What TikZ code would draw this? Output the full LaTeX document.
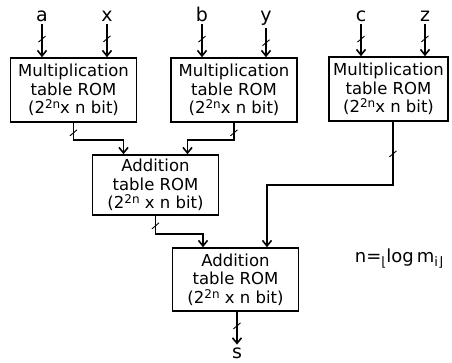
\documentclass[tikz,border=0pt]{standalone}
\usepackage{fontspec}
\setmainfont{DejaVu Sans}
\usetikzlibrary{arrows.meta}
\usetikzlibrary{decorations.markings}
\newcommand{\romsup}[1]{\raisebox{5pt}{\fontsize{12}{12}\selectfont #1}}
\tikzset{rom/.style = {draw, rectangle, inner sep=0, align=center,
                       minimum width=126, minimum height=64,
                       font=\fontsize{16.5}{18.5}\selectfont}}
\tikzset{sig/.style = {inner sep=2pt, anchor=base,
                       font=\fontsize{19}{20}\selectfont}}
\tikzset{tick/.style = {decoration={markings,
                                    mark=at position #1
                                    with {\draw[-, line width=0.9pt] (3pt,-3.5pt) -- (-3pt,3.5pt);}},
                        postaction={decorate}}}
\tikzset{
  every picture/.style={
    every path/.style={line width=1.6pt},
  }
}

\begin{document}
\begin{tikzpicture}[x=1pt, y=-1pt, >={Straight Barb[length=5.5pt, width=9pt]}]
        \useasboundingbox (0,0) rectangle (452,362);
        \node[sig] (a) at (42,21) {a};
        \node[sig] (x) at (107,21) {x};
        \node[sig] (b) at (202,21) {b};
        \node[sig] (y) at (266,21) {y};
        \node[sig] (c) at (361,21) {c};
        \node[sig] (z) at (425,21) {z};
        \node[rom] (b1) at (73.5,90) {Multiplication\\table ROM\\(2\romsup{2n}x n bit)};
        \node[rom] (b2) at (234,90) {Multiplication\\table ROM\\(2\romsup{2n}x n bit)};
        \node[rom, minimum width=119] (b3) at (388.5,89) {Multiplication\\table ROM\\(2\romsup{2n}x n bit)};
        \node[rom, minimum height=60] (b4) at (155.5,185) {Addition\\table ROM\\(2\romsup{2n} x n bit)};
        \node[rom, minimum height=63] (b5) at (235.5,279.5) {Addition\\table ROM\\(2\romsup{2n} x n bit)};
        \node[sig] (s) at (237,358) {s};
        \node[font=\fontsize{18}{20}\selectfont, inner sep=0] (nlog) at (399,259)
             {n=\raisebox{-4pt}{\fontsize{13}{13}\selectfont ⌊}log\,m\raisebox{-4pt}{\fontsize{13}{13}\selectfont i⌋}};
        \draw[->, tick=15pt] (a) -- (a |- b1.north);
        \draw[->, tick=15pt] (x) -- (x |- b1.north);
        \draw[->, tick=15pt] (b) -- (b |- b2.north);
        \draw[->, tick=15pt] (y) -- (y |- b2.north);
        \draw[->, tick=15pt] (c) -- (c |- b3.north);
        \draw[->, tick=15pt] (z) -- (z |- b3.north);
        \draw[->, tick=10pt] (b1.south) -- ++(0,17) -| ([xshift=-32pt]b4.north);
        \draw[->, tick=10pt] (b2.south) -- ++(0,17) -| ([xshift=32pt]b4.north);
        \draw[->, tick=32pt] ([xshift=4.5pt]b3.south) -- ++(0,63) -| ([xshift=31.5pt]b5.north);
        \draw[->, tick=10pt] (b4.south) -- ++(0,18) -| ([xshift=-32.5pt]b5.north);
        \draw[->, tick=14pt] (s |- b5.south) -- (s);
    \end{tikzpicture}
\end{document}
